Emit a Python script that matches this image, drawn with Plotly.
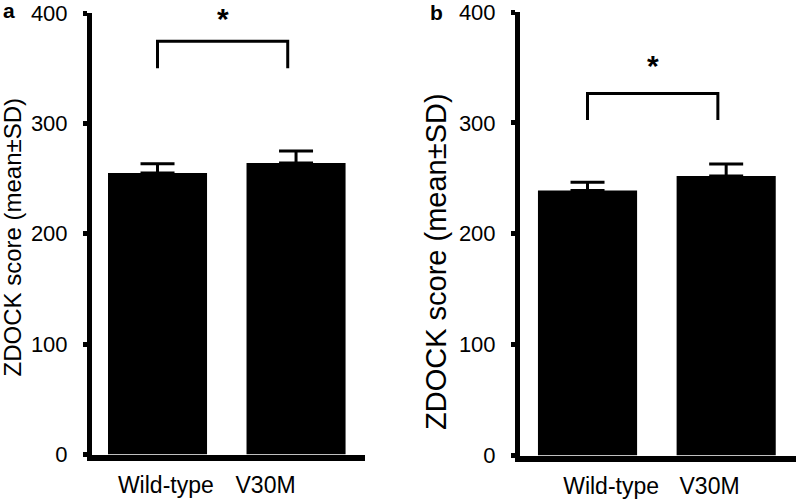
import plotly.graph_objects as go

W, H = 796, 499

# ---- data ----
categories = ["Wild-type", "V30M"]
mean_a = [255, 264]
sd_a = [8.5, 11]
mean_b = [239, 252]
sd_b = [7.5, 11]
y_ticks = [0, 100, 200, 300, 400]
panel_labels = ["a", "b"]
sig_label = "*"
y_title = "ZDOCK score (mean±SD)"
# significance bracket: [leg bottom, bracket top] in score units
bracket_a = [350, 374.5]
bracket_b = [302.5, 326.6]

FONT = "Liberation Sans, Arial, Helvetica, sans-serif"

fig = go.Figure()

panels = [
    dict(mean=mean_a, sd=sd_a, br=bracket_a, xa="x", ya="y",
         xdom=(92, 365.3), ydom=(13, 454.5), xr=[-0.473, 1.5],
         tickpos=[0.06, 0.78], star=("top", 0), letter=(8.5, 10),
         title_xy=(12, 237.5), title_size=24),
    dict(mean=mean_b, sd=sd_b, br=bracket_b, xa="x2", ya="y2",
         xdom=(520, 795.5), ydom=(12, 455.5), xr=[-0.487, 1.5],
         tickpos=[0.17, 0.88], star=("middle", 65), letter=(436.5, 12),
         title_xy=(436, 262), title_size=29),
]

xs = list(range(len(categories)))
annotations = []
shapes = []
for i, p in enumerate(panels):
    fig.add_trace(go.Bar(
        x=xs, y=p["mean"], width=0.715,
        marker=dict(color="black", line=dict(width=0)),
        error_y=dict(type="data", array=p["sd"], arrayminus=[0] * len(xs),
                     symmetric=False, color="black", thickness=3, width=17),
        xaxis=p["xa"], yaxis=p["ya"], showlegend=False,
    ))
    sfx = "" if i == 0 else str(i + 1)
    fig.update_layout(**{
        "xaxis" + sfx: dict(
            domain=[p["xdom"][0] / W, p["xdom"][1] / W], range=p["xr"],
            anchor="y" + sfx, showline=True, linewidth=6, linecolor="black",
            showgrid=False, zeroline=False, ticks="",
            tickvals=p["tickpos"], ticktext=categories,
            tickfont=dict(family=FONT, size=23, color="black"),
            ticklabelstandoff=5, ticklabeloverflow="allow", fixedrange=True,
        ),
        "yaxis" + sfx: dict(
            domain=[1 - p["ydom"][1] / H, 1 - p["ydom"][0] / H], range=[0, 400],
            anchor="x" + sfx, showline=True, linewidth=5, linecolor="black",
            showgrid=False, zeroline=False, ticks="outside", ticklen=4,
            tickwidth=5, tickcolor="black", tickvals=y_ticks,
            tickfont=dict(family=FONT, size=22, color="black"),
            ticklabelstandoff=11, ticklabeloverflow="allow", fixedrange=True,
        ),
    })
    lo, hi = p["br"]
    shapes.append(dict(
        type="path", xref=p["xa"], yref=p["ya"],
        path=f"M 0,{lo} L 0,{hi} L 0.94,{hi} L 0.94,{lo}",
        line=dict(color="black", width=3),
    ))
    annotations.append(dict(
        text=sig_label, x=0.47, y=1 - p["star"][1] / H, xref=p["xa"], yref="paper",
        showarrow=False, xanchor="center", yanchor=p["star"][0],
        font=dict(family=FONT, size=30, color="black", weight="bold"),
    ))
    annotations.append(dict(
        text=panel_labels[i], x=p["letter"][0] / W, y=1 - p["letter"][1] / H,
        xref="paper", yref="paper", showarrow=False,
        xanchor="center", yanchor="middle",
        font=dict(family=FONT, size=21, color="black", weight="bold"),
    ))
    annotations.append(dict(
        text=y_title, x=p["title_xy"][0] / W, y=1 - p["title_xy"][1] / H,
        xref="paper", yref="paper", showarrow=False, textangle=-90,
        xanchor="center", yanchor="middle",
        font=dict(family=FONT, size=p["title_size"], color="black"),
    ))

fig.update_layout(
    width=W, height=H, margin=dict(l=0, r=0, t=0, b=0, autoexpand=False),
    paper_bgcolor="white", plot_bgcolor="white",
    annotations=annotations, shapes=shapes, bargap=0.3,
    font=dict(family=FONT, color="black"),
)

fig.write_html(
    "out.html",
    config={"displayModeBar": False},
    post_script="document.body.style.margin='0';document.body.style.overflow='hidden';",
)
